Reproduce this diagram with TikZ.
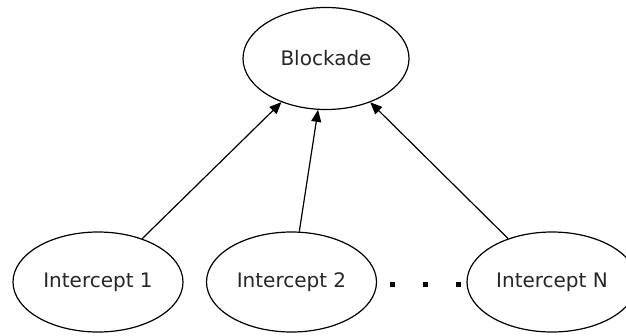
\documentclass[tikz,border=0pt]{standalone}
\usepackage{fontspec}
\setmainfont{DejaVu Sans}
\usetikzlibrary{shapes.geometric,arrows.meta}

\tikzset{every picture/.style={line width=1.2pt}}
\tikzset{
oval/.style={draw, ellipse, inner sep=0pt, minimum width=170pt, minimum height=100pt,
  font=\fontsize{20}{24}\selectfont, text=black!85},
link/.style={-{Triangle[length=12pt,width=10pt]}}}

\begin{document}
\begin{tikzpicture}[x=1pt,y=1pt,yscale=-1,xscale=1]
            \clip (0,0) rectangle (626,335); %picture is 626 wide and 335 high

            %Shape: Ellipse [top]
            \node [oval, minimum width=166pt, minimum height=102pt] (blockade) at (326,58.5) {Blockade};
            %Shape: Ellipse [bottom row]
            \node [oval] (icpt1) at (98,282) {Intercept 1};
            \node [oval] (icpt2) at (291.5,282) {Intercept 2};
            \node [oval] (icptN) at (552,282) {Intercept N};

            %Dots between 2 and N
            \foreach \dx in {392,425,458.5}
              \fill (\dx-2.5,281.5) rectangle (\dx+2.5,286.5);

            %Straight Lines
            \draw [link] (icpt1) -- (blockade);
            \draw [link] (icpt2) -- (blockade);
            \draw [link] (icptN) -- (blockade);
\end{tikzpicture}
\end{document}
